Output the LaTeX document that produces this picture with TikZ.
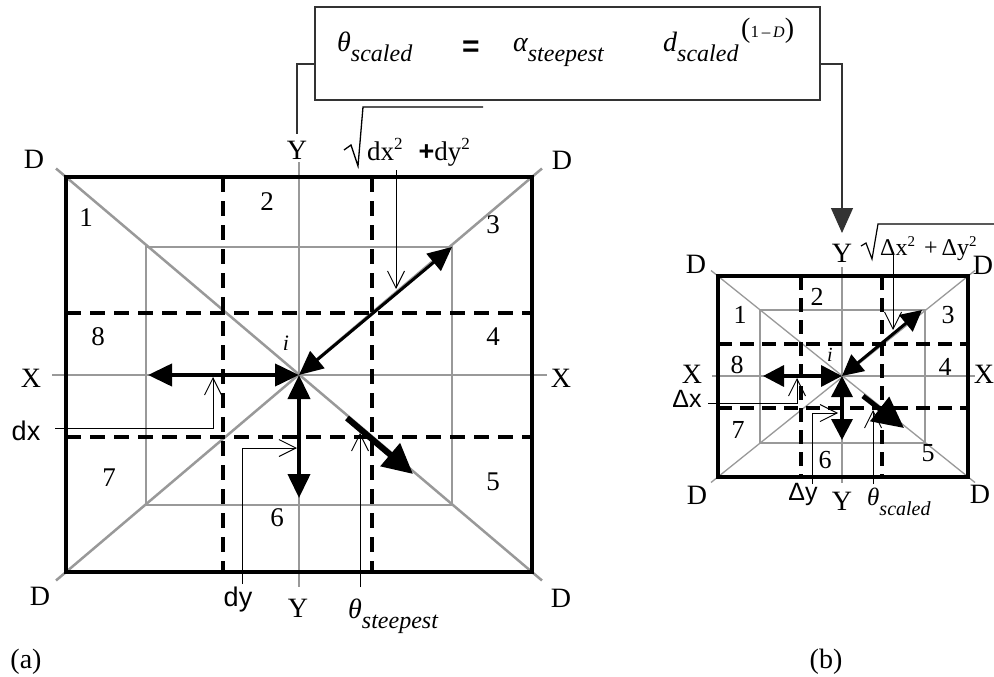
\documentclass[tikz,border=0pt]{standalone}
\usepackage{fontspec}
\setmainfont{Liberation Serif}
\newfontfamily\arialf{Liberation Sans}
\usetikzlibrary{arrows.meta}
\definecolor{gline}{gray}{0.6}
\definecolor{boxline}{gray}{0.2}
\tikzset{
  lbl/.style={inner sep=0pt, font=\fontsize{28}{28}\selectfont},
  nlbl/.style={inner sep=0pt, font=\fontsize{27}{27}\selectfont},
  rlbl/.style={inner sep=0pt, font=\fontsize{26}{26}\selectfont},
  ilbl/.style={inner sep=0pt, font=\fontsize{22}{22}\selectfont\itshape},
  slbl/.style={inner sep=0pt, font=\arialf\fontsize{27}{27}\selectfont},
  gthick/.style={draw=gline, line width=2.5pt},
  gthin/.style={draw=gline, line width=1.3pt},
  dashA/.style={line width=4pt, dash pattern=on 15pt off 9pt},
  dashB/.style={line width=3.5pt, dash pattern=on 14pt off 8pt},
  frameA/.style={line width=4pt},
  frameB/.style={line width=3.5pt},
  dblA/.style={line width=4pt, {Triangle[length=24pt,width=22pt]}-{Triangle[length=24pt,width=22pt]}},
  dblB/.style={line width=3.5pt, {Triangle[length=21pt,width=21pt]}-{Triangle[length=21pt,width=21pt]}},
  sglA/.style={line width=6pt, -{Triangle[length=30pt,width=29pt]}},
  sglB/.style={line width=5pt, -{Triangle[length=31pt,width=30pt]}},
  note/.style={line width=0.9pt, -{Straight Barb[length=17pt,width=17pt]}},
  conn/.style={draw=boxline, line width=1.2pt},
}
\newcommand\subsc[3]{#1\raisebox{-10pt}{\fontsize{#3}{#3}\selectfont #2}}
\begin{document}
\begin{tikzpicture}[x=1pt,y=-1pt]
\fill[white] (0,0) rectangle (994,677);
\path[use as bounding box] (0,0) rectangle (994,677);

% ---------- formula box ----------
\node[draw=boxline, line width=1.2pt, minimum width=505pt, minimum height=93pt, inner sep=0pt] (box) at (567.5,53.5) {};
\node[anchor=base west, inner sep=0pt, font=\fontsize{28}{28}\selectfont\itshape] (th) at (337,52) {\subsc{θ}{scaled}{24}};
\node[inner sep=0pt, font=\arialf\bfseries\fontsize{30}{30}\selectfont] (eq) at (471,49) {=};
\node[anchor=base west, inner sep=0pt, font=\fontsize{28}{28}\selectfont\itshape] (al) at (513,52) {\subsc{α}{steepest}{24}};
\node[anchor=base west, inner sep=0pt, font=\fontsize{28}{28}\selectfont\itshape] (ds) at (663,52) {\subsc{d}{scaled}{24}};
\node[anchor=west, inner sep=0pt] (ex) at (741,31) {{\fontsize{28}{28}\selectfont(}{\fontsize{17}{17}\selectfont 1\,–\,}{\fontsize{16}{16}\selectfont\itshape D}{\fontsize{28}{28}\selectfont)}};
\coordinate (cl) at (297,64);
\coordinate (cle) at (297,134);
\coordinate (cr) at (842,64);
\coordinate (cre) at (842,233);
\draw[conn] (box.west |- cl) -- (cl) -- (cle);
\draw[conn, -{Triangle[length=25pt,width=22pt]}] (box.east |- cr) -- (cr) -- (cre);

% ================= LEFT DIAGRAM (a) =================
\coordinate (LC) at (299,375);
\draw[gthick] (146,247) rectangle (452,505);
\draw[gthick] (52,375) -- (547,375);
\draw[gthick] (299,162) -- (299,587);
\draw[gthick] (56,168.5) -- (542,580.5);
\draw[gthick] (542,168.5) -- (56,580.5);
\draw[dashA] (223,177) -- (223,572);
\draw[dashA] (372,177) -- (372,572);
\draw[dashA] (66,313) -- (532,313);
\draw[dashA] (66,437) -- (532,437);
\draw[frameA] (66,177) rectangle (532,572);
\coordinate (Lw) at (148,375);
\coordinate (Ls) at (299,498);
\coordinate (Lne) at (452,247);
\coordinate (Ld0) at (347,418);
\coordinate (Ld1) at (413,474);
\draw[dblA] (Lw) -- (LC);
\draw[dblA] (LC) -- (Ls);
\draw[dblA, line width=3pt] (LC) -- (Lne);
\draw[sglA] (Ld0) -- (Ld1);
\draw[note] (55,428) -- (213,428) -- (213,377);
\draw[note] (242,584) -- (242,448) -- (297,448);
\draw[note] (360,587) -- (360,433);
\draw[note] (396,170) -- (396,289);
\node[lbl] (lD1) at (34,159) {D};
\node[lbl] (lD2) at (562,160) {D};
\node[lbl] (lD3) at (40,596) {D};
\node[lbl] (lD4) at (561,598) {D};
\node[lbl] (lX1) at (31,378) {X};
\node[lbl] (lX2) at (561,378) {X};
\node[lbl] (lY1) at (297,150) {Y};
\node[lbl] (lY2) at (298,608) {Y};
\node[nlbl] (n1) at (86,218) {1};
\node[nlbl] (n2) at (267,202) {2};
\node[nlbl] (n3) at (493,225) {3};
\node[nlbl] (n4) at (493,337) {4};
\node[nlbl] (n5) at (493,482) {5};
\node[nlbl] (n6) at (277,518) {6};
\node[nlbl] (n7) at (109,478) {7};
\node[nlbl] (n8) at (98,337) {8};
\node[ilbl] (li) at (286,343) {i};
\node[slbl] (ldx) at (26,431) {dx};
\node[slbl] (ldy) at (238,600) {dy};
\node[anchor=base west, inner sep=0pt, font=\fontsize{28}{28}\selectfont\itshape] (lth) at (348,618) {\subsc{θ}{steepest}{24}};
\node[lbl] (la) at (26,662) {(a)};
% sqrt label left
\draw[line width=1.3pt] (344,150) -- (351,145) -- (358,166) -- (363,107) -- (483,107);
\node[anchor=base west, inner sep=0pt, font=\fontsize{27}{27}\selectfont] (lsq) at (367,160) {dx\raisebox{10pt}{\fontsize{17}{17}\selectfont 2}\hspace{16pt}{\arialf\bfseries +}dy\raisebox{10pt}{\fontsize{17}{17}\selectfont 2}};

% ================= RIGHT DIAGRAM (b) =================
\coordinate (RC) at (842,376);
\draw[gthin] (760,310) rectangle (925,443);
\draw[gthin] (712,376) -- (975,376);
\draw[gthin] (842,267) -- (842,483);
\draw[gthin] (711,270.5) -- (975,482.5);
\draw[gthin] (975,270.5) -- (711,482.5);
\draw[dashB] (801,276) -- (801,477);
\draw[dashB] (882,276) -- (882,477);
\draw[dashB] (718,344) -- (968,344);
\draw[dashB] (718,408) -- (968,408);
\draw[frameB] (718,276) rectangle (968,477);
\coordinate (Rw) at (763,376);
\coordinate (Rs) at (842,440);
\coordinate (Rne) at (922,310);
\coordinate (Rd0) at (863,396);
\coordinate (Rd1) at (904,428);
\draw[dblB] (Rw) -- (RC);
\draw[dblB] (RC) -- (Rs);
\draw[dblB, line width=3pt] (RC) -- (Rne);
\draw[sglB] (Rd0) -- (Rd1);
\draw[note] (708,403) -- (797,403) -- (797,378);
\draw[note] (812,484) -- (812,413) -- (838,413);
\draw[note] (873,484) -- (873,410);
\draw[note] (893,252) -- (893,330);
\node[lbl] (rD1) at (696,264) {D};
\node[lbl] (rD2) at (983,265) {D};
\node[lbl] (rD3) at (697,495) {D};
\node[lbl] (rD4) at (980,494) {D};
\node[lbl] (rX1) at (692,374) {X};
\node[lbl] (rX2) at (984,374) {X};
\node[lbl] (rY1) at (842,253) {Y};
\node[lbl] (rY2) at (842,501) {Y};
\node[rlbl] (m1) at (740,315) {1};
\node[rlbl] (m2) at (817,297) {2};
\node[rlbl] (m3) at (948,315) {3};
\node[rlbl] (m4) at (945,367) {4};
\node[rlbl] (m5) at (928,453) {5};
\node[rlbl] (m6) at (825,460) {6};
\node[rlbl] (m7) at (738,430) {7};
\node[rlbl] (m8) at (737,365) {8};
\node[ilbl, font=\fontsize{20}{20}\selectfont\itshape] (ri) at (830,355) {i};
\node[slbl, font=\arialf\fontsize{25}{25}\selectfont] (rdx) at (687,399) {Δx};
\node[slbl, font=\arialf\fontsize{25}{25}\selectfont] (rdy) at (803,494) {Δy};
\node[anchor=base west, inner sep=0pt, font=\fontsize{25}{25}\selectfont\itshape] (rth) at (867,505) {\subsc{θ}{scaled}{20}};
\node[lbl] (rb) at (826,662) {(b)};
\draw[line width=1.2pt] (861,246) -- (866,243) -- (872,259) -- (878,224) -- (994,224);
\node[anchor=base west, inner sep=0pt, font=\fontsize{24}{24}\selectfont] (rsq) at (880,255) {Δx\raisebox{9pt}{\fontsize{15}{15}\selectfont 2}\hspace{9pt}+\,Δy\raisebox{9pt}{\fontsize{15}{15}\selectfont 2}};
\end{tikzpicture}
\end{document}
